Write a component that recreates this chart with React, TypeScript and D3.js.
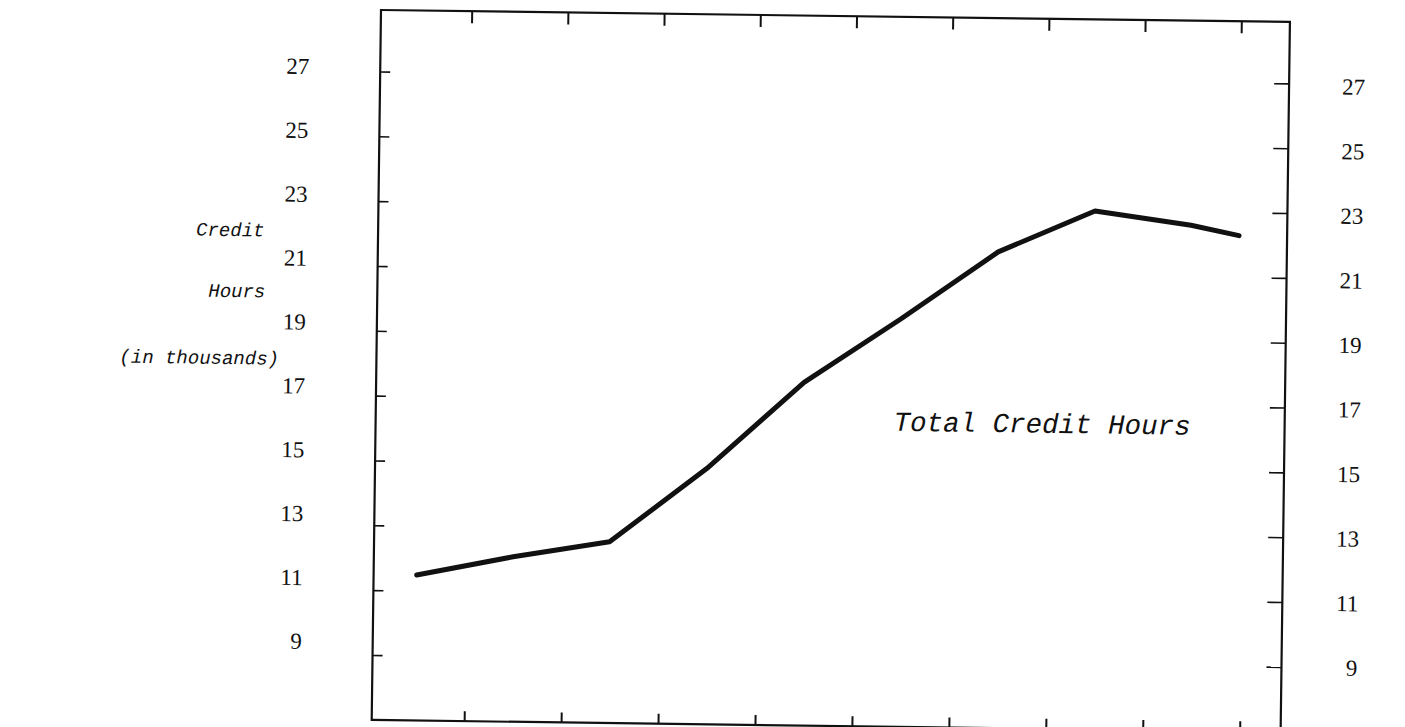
import React from 'react';
import * as d3 from 'd3';

// ---- data ----
// position of each reading along the horizontal axis, in tick intervals
const periodPositions = [0.5, 1.5, 2.5, 3.5, 4.5, 5.5, 6.5, 7.5, 8.5, 9.0];
const totalCreditHours = [11.5, 12.1, 12.6, 14.9, 17.6, 19.6, 21.7, 23.0, 22.6, 22.3];
const xTickPositions = [1, 2, 3, 4, 5, 6, 7, 8, 9];
const yTicks = [9, 11, 13, 15, 17, 19, 21, 23, 25, 27];
const yTickLabels = ['9', '11', '13', '15', '17', '19', '21', '23', '25', '27'];
const axisTitle = ['Credit', 'Hours', '(in thousands)'];
const seriesName = 'Total Credit Hours';

export default function App() {
  const W = 1405;
  const H = 727;
  const plotW = 909;
  const plotH = 710;

  // top and bottom tick rows of the scanned page are slightly skewed
  const x = d3.scaleLinear().domain([0, 9.5]).range([-5, plotW]);
  const xBottom = d3.scaleLinear().domain([0, 9.5]).range([-4, plotW + 8]);
  const y = d3.scaleLinear().domain([9, 27]).range([645.5, 62]);
  const leftLabelY = d3.scaleLinear().domain([9, 27]).range([632, 57]);
  const rightLabelY = d3.scaleLinear().domain([9, 27]).range([645, 64]);

  const line = d3
    .line<number>()
    .x((_, i) => x(periodPositions[i]))
    .y((d) => y(d));

  const serif = "'Liberation Serif', 'Times New Roman', serif";
  const mono = "'Liberation Mono', 'Courier New', monospace";
  const ink = '#111';

  return (
    <svg
      width={W}
      height={H}
      style={{ position: 'absolute', left: 0, top: 0, display: 'block' }}
    >
      <rect x={0} y={0} width={W} height={H} fill="#fff" />
      <g transform="translate(381,10) rotate(0.75)">
        {/* frame */}
        <rect x={0} y={0} width={plotW} height={plotH} fill="none" stroke={ink} strokeWidth={2.2} />
        {/* top ticks */}
        {xTickPositions.map((t, i) => (
          <line key={'t' + i} x1={x(t)} x2={x(t)} y1={0} y2={12} stroke={ink} strokeWidth={2} />
        ))}
        {/* bottom ticks */}
        {xTickPositions.map((t, i) => (
          <line
            key={'b' + i}
            x1={xBottom(t)}
            x2={xBottom(t)}
            y1={plotH}
            y2={plotH - 10}
            stroke={ink}
            strokeWidth={2}
          />
        ))}
        {/* left ticks + labels */}
        {yTicks.map((v, i) => (
          <g key={'l' + i}>
            <line x1={0} x2={10} y1={y(v)} y2={y(v)} stroke={ink} strokeWidth={1.6} />
            <text
              x={-71}
              y={leftLabelY(v) + 8}
              textAnchor="end"
              fontFamily={serif}
              fontSize={23}
              fill={ink}
            >
              {yTickLabels[i]}
            </text>
          </g>
        ))}
        {/* right ticks + labels */}
        {yTicks.map((v, i) => (
          <g key={'r' + i}>
            <line x1={plotW - 15} x2={plotW} y1={y(v)} y2={y(v)} stroke={ink} strokeWidth={1.6} />
            <text
              x={plotW + 76}
              y={rightLabelY(v) + 8}
              textAnchor="end"
              fontFamily={serif}
              fontSize={23}
              fill={ink}
            >
              {yTickLabels[i]}
            </text>
          </g>
        ))}
        {/* data line */}
        <path
          d={line(totalCreditHours) ?? ''}
          fill="none"
          stroke={ink}
          strokeWidth={5}
          strokeLinejoin="round"
          strokeLinecap="round"
        />
        {/* series label */}
        <text x={518} y={414} fontFamily={mono} fontStyle="italic" fontSize={27.5} fill={ink}>
          {seriesName}
        </text>
        {/* axis title */}
        <text x={-182} y={228} fontFamily={mono} fontStyle="italic" fontSize={19} fill={ink}>
          {axisTitle[0]}
        </text>
        <text x={-169} y={289} fontFamily={mono} fontStyle="italic" fontSize={19} fill={ink}>
          {axisTitle[1]}
        </text>
        <text x={-257} y={356} fontFamily={mono} fontStyle="italic" fontSize={19} fill={ink}>
          {axisTitle[2]}
        </text>
      </g>
    </svg>
  );
}
